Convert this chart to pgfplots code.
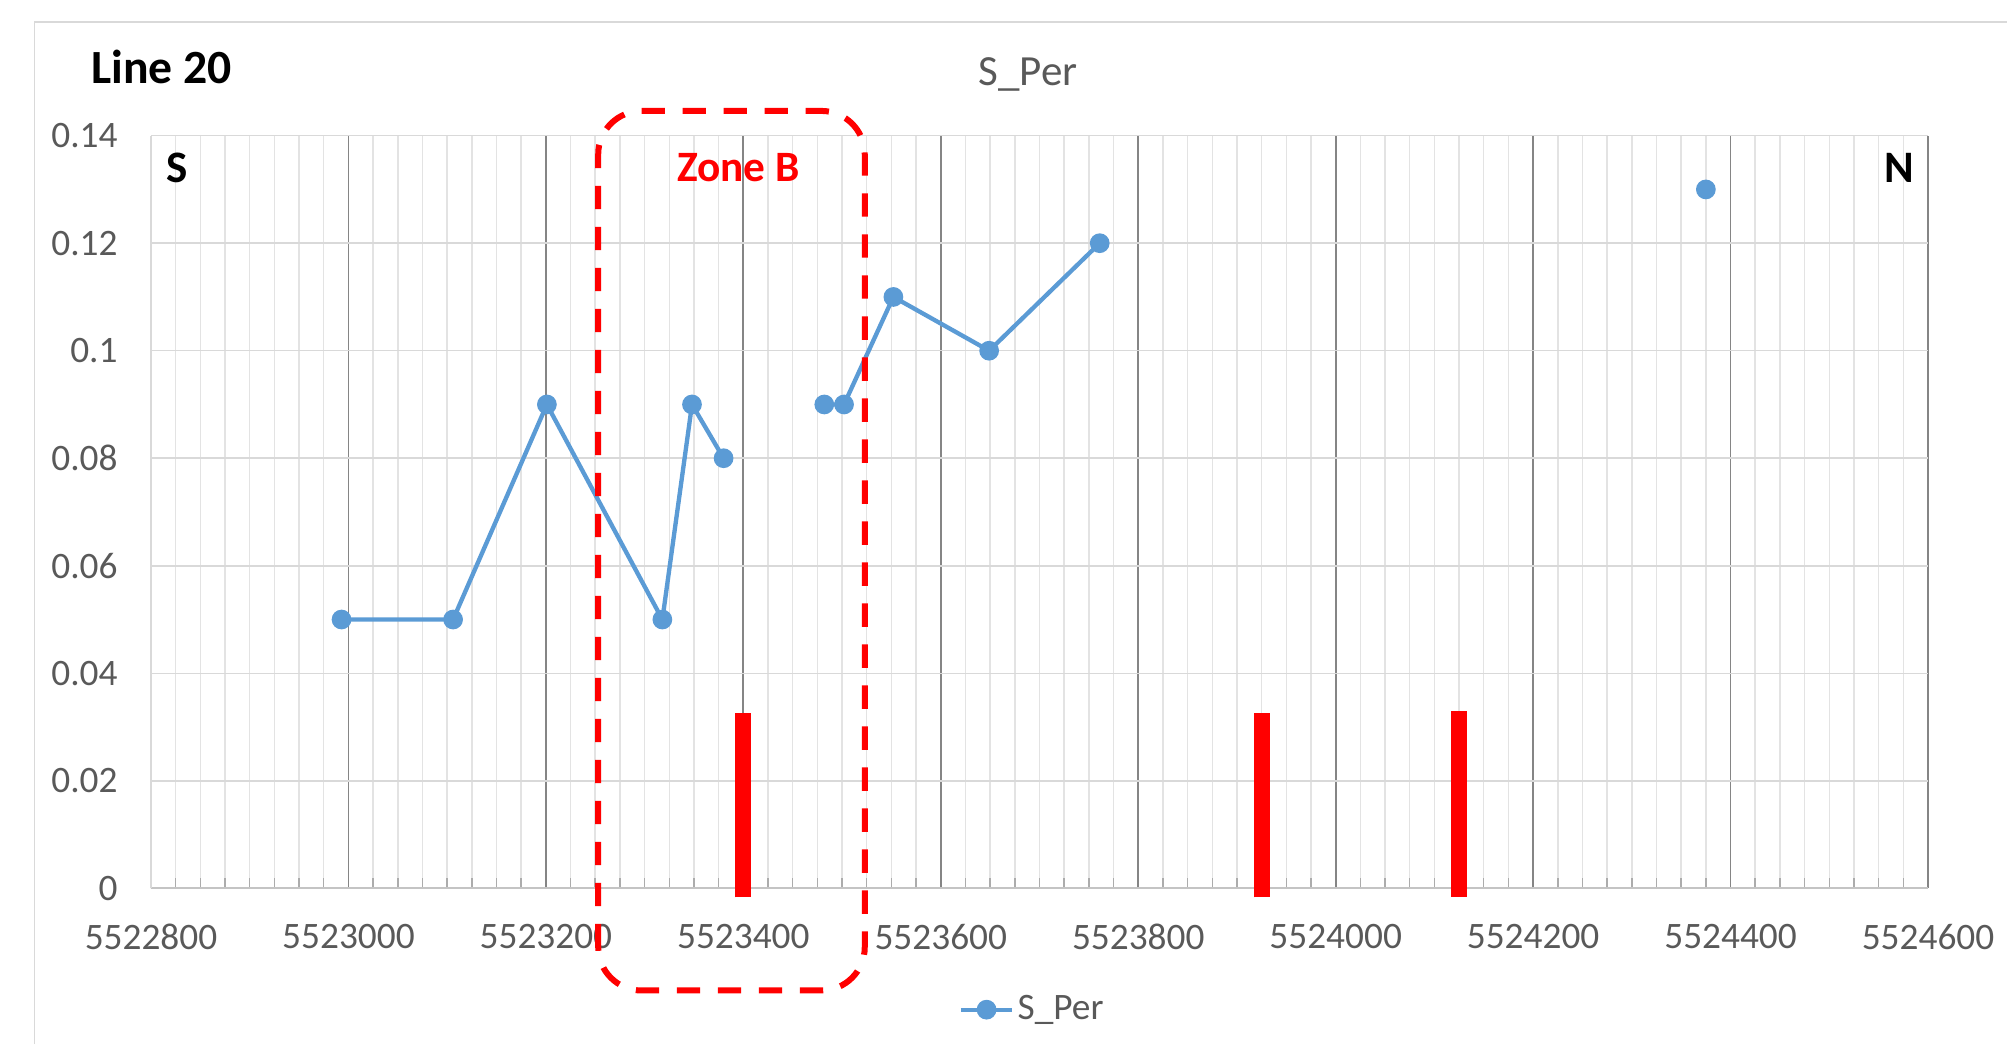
\documentclass[border=0pt]{standalone}
\usepackage{fontspec}
\setmainfont{Carlito}
\usepackage{pgfplots}
\pgfplotsset{compat=1.18}
\definecolor{serblue}{HTML}{5B9BD5}
\definecolor{txtgray}{HTML}{595959}
\definecolor{gridlight}{HTML}{D9D9D9}
\definecolor{gridminor}{HTML}{E3E3E3}
\definecolor{gridmajor}{HTML}{858585}
\definecolor{axgray}{HTML}{C4C4C4}
\definecolor{zonered}{HTML}{FF0000}

\pgfplotstableread{
x y
5522993 0.05
5523106 0.05
5523201 0.09
5523318 0.05
5523348 0.09
5523380 0.08
5523430 nan
5523482 0.09
5523502 0.09
5523552 0.11
5523649 0.10
5523761 0.12
5524000 nan
5524375 0.13
}\sper

\begin{document}
\begin{tikzpicture}
\useasboundingbox (-45.3pt,-46.7pt) rectangle (556.8pt,266.5pt);
\draw[gridlight, line width=0.5pt] (-34.9pt,-46.7pt) -- (-34.9pt,259.9pt) -- (556.8pt,259.9pt);
\begin{axis}[
  at={(0,0)}, anchor=south west,
  scale only axis, width=533.1pt, height=225.8pt,
  clip=false,
  xmin=5522800, xmax=5524600, ymin=0, ymax=0.14,
  xtick={5522800,5523000,5523200,5523400,5523600,5523800,5524000,5524200,5524400,5524600},
  ytick={0,0.02,0.04,0.06,0.08,0.1,0.12,0.14},
  minor x tick num=7,
  scaled x ticks=false, scaled y ticks=false,
  xticklabel style={/pgf/number format/fixed, /pgf/number format/precision=0, /pgf/number format/1000 sep={}, yshift=-7.3pt},
  yticklabel style={/pgf/number format/fixed, /pgf/number format/precision=2, xshift=-6.5pt},
  /pgf/number format/assume math mode=true,
  tick label style={font=\fontsize{11.2}{13}\selectfont, text=txtgray},
  axis x line*=bottom, axis y line*=left,
  x axis line style={draw=axgray, line width=0.6pt},
  y axis line style={draw=gridlight, line width=0.6pt},
  tick align=inside,
  major tick length=0pt,
  minor tick length=3pt,
  minor tick style={draw=gray!65, line width=0.45pt},
  ytick style={draw=none},
  xmajorgrids=true, xminorgrids=true, ymajorgrids=true,
  x grid style={draw=gridmajor, line width=0.5pt},
  minor x grid style={draw=gridminor, line width=0.45pt},
  y grid style={draw=gridlight, line width=0.45pt},
  legend style={at={(0.5,0)}, anchor=center, yshift=-36.4pt, xshift=-2pt, draw=none, fill=none,
    font=\fontsize{11.2}{13}\selectfont, text=txtgray,
    nodes={inner xsep=1pt}},
  legend image code/.code={%
    \draw[mark repeat=2,mark phase=2] plot coordinates {(0cm,0cm) (0.27cm,0cm) (0.54cm,0cm)};},
]
\addplot[zonered, line width=4.8pt, forget plot] coordinates {(5523400,-0.00167) (5523400,0.0326)};
\addplot[zonered, line width=4.8pt, forget plot] coordinates {(5523925,-0.00167) (5523925,0.0326)};
\addplot[zonered, line width=4.8pt, forget plot] coordinates {(5524125,-0.00160) (5524125,0.0329)};
\addplot[serblue, line width=1.3pt, mark=*, mark size=2.3pt,
  mark options={fill=serblue, draw=serblue, solid}, unbounded coords=jump]
  table[x=x, y=y] {\sper};
\addlegendentry{S\_Per}
\draw[zonered, line width=1.8pt, dash pattern=on 7pt off 5.3pt, rounded corners=13pt]
  (axis cs:5523253,-0.0190) rectangle (axis cs:5523523,0.1446);
\node[font=\bfseries\fontsize{13}{15}\selectfont, text=zonered] at (axis cs:5523395,0.1340) {Zone B};
\node[font=\bfseries\fontsize{13.5}{15}\selectfont] at (axis cs:5522826,0.1340) {S};
\node[font=\bfseries\fontsize{13.5}{15}\selectfont] at (axis cs:5524571,0.1340) {N};
\end{axis}
\node[font=\fontsize{12.9}{15}\selectfont, text=txtgray] at (263.1pt,244.3pt) {S\_Per};
\node[anchor=west, inner sep=0pt, font=\bfseries\fontsize{14.3}{17}\selectfont] at (-18.1pt,246.5pt) {Line 20};
\end{tikzpicture}
\end{document}
